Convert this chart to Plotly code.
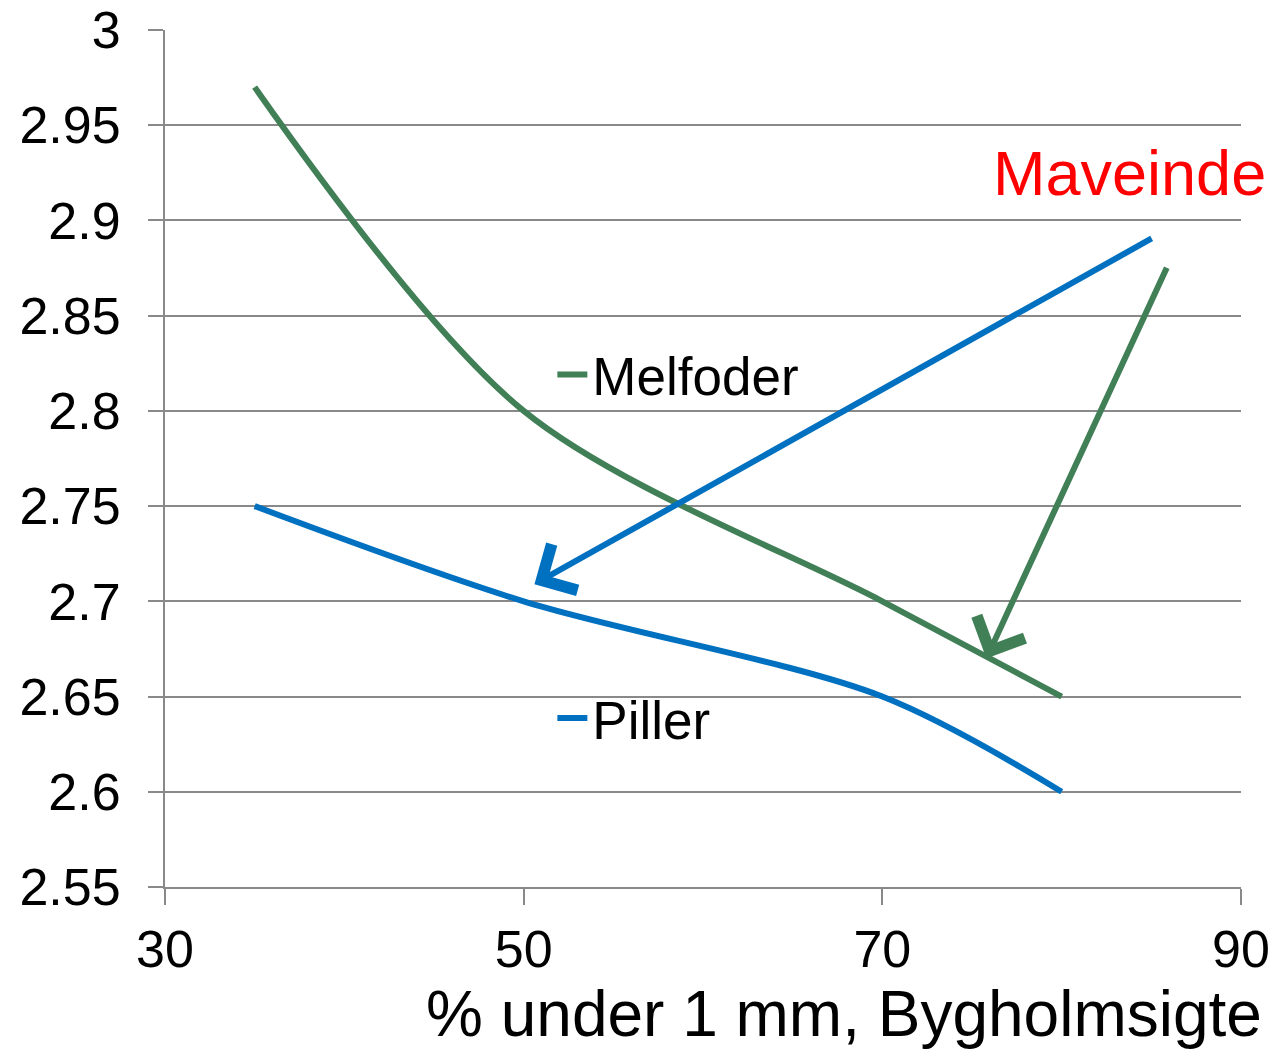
import plotly.graph_objects as go

# Fineness (% under 1 mm, Bygholm sieve) vs. stomach-end measurements
x_values = [35, 50, 70, 80]
melfoder = [2.97, 2.80, 2.70, 2.65]
piller = [2.75, 2.70, 2.65, 2.60]

y_tick_values = [2.55, 2.60, 2.65, 2.70, 2.75, 2.80, 2.85, 2.90, 2.95, 3.00]
y_tick_labels = ["2.55", "2.6", "2.65", "2.7", "2.75", "2.8", "2.85", "2.9", "2.95", "3"]
x_tick_values = [30, 50, 70, 90]
x_tick_labels = ["30", "50", "70", "90"]

# Arrows pointing from the "Maveinde" label to each curve (tail -> head)
blue_arrow_tail = (85.1, 2.891)
blue_arrow_head = (50.6, 2.709)
green_arrow_tail = (85.9, 2.876)
green_arrow_head = (75.8, 2.670)

GREEN = "#417F57"
BLUE = "#0070C0"
GRID = "#898989"
FONT = "Liberation Sans, Arial, Helvetica, sans-serif"

fig = go.Figure()
fig.add_trace(go.Scatter(
    x=x_values, y=melfoder, name="Melfoder", mode="lines",
    line=dict(color=GREEN, width=6, shape="spline", smoothing=0.9),
    legend="legend", showlegend=True,
))
fig.add_trace(go.Scatter(
    x=x_values, y=piller, name="Piller", mode="lines",
    line=dict(color=BLUE, width=6, shape="spline", smoothing=0.9),
    legend="legend2", showlegend=True,
))

for (tx, ty), (hx, hy), col in [
    (blue_arrow_tail, blue_arrow_head, BLUE),
    (green_arrow_tail, green_arrow_head, GREEN),
]:
    fig.add_annotation(
        x=hx, y=hy, ax=tx, ay=ty, xref="x", yref="y", axref="x", ayref="y",
        text="", showarrow=True, arrowhead=4, arrowsize=1.7, arrowwidth=6,
        arrowcolor=col, standoff=0, startstandoff=0,
    )

fig.add_annotation(
    x=83.8, y=2.925, xref="x", yref="y", text="Maveinde", showarrow=False,
    font=dict(family=FONT, size=63, color="#FF0000"), xanchor="center", yanchor="middle",
)
fig.add_annotation(
    x=1.0214, y=-0.148, xref="paper", yref="paper", text="% under 1 mm, Bygholmsigte",
    showarrow=False, font=dict(family=FONT, size=64, color="#000000"),
    xanchor="right", yanchor="middle",
)

legend_common = dict(
    bgcolor="rgba(0,0,0,0)", borderwidth=0, xref="paper", yref="paper",
    xanchor="left", yanchor="middle", font=dict(family=FONT, size=53, color="#000000"),
    itemwidth=30, visible=True,
)
fig.update_layout(
    width=1272, height=1049,
    margin=dict(l=165, r=31, t=30, b=162, autoexpand=False),
    paper_bgcolor="white", plot_bgcolor="white",
    font=dict(family=FONT, color="#000000"),
    showlegend=True,
    legend=dict(x=0.36, y=0.598, **legend_common),
    legend2=dict(x=0.36, y=0.197, **legend_common),
    xaxis=dict(
        range=[30, 90], tickvals=x_tick_values, ticktext=x_tick_labels,
        showgrid=False, zeroline=False, showline=True, linecolor=GRID, linewidth=2,
        ticks="outside", ticklen=16, tickwidth=2, tickcolor=GRID, automargin=False,
        tickfont=dict(family=FONT, size=52), ticklabelstandoff=0,
    ),
    yaxis=dict(
        range=[2.55, 3.0], tickvals=y_tick_values, ticktext=y_tick_labels,
        showgrid=True, gridcolor=GRID, gridwidth=2, zeroline=False,
        showline=True, linecolor=GRID, linewidth=2, automargin=False,
        ticks="outside", ticklen=15, tickwidth=2, tickcolor=GRID,
        tickfont=dict(family=FONT, size=52), ticklabelstandoff=17,
    ),
)

fig.write_html("out.html")
